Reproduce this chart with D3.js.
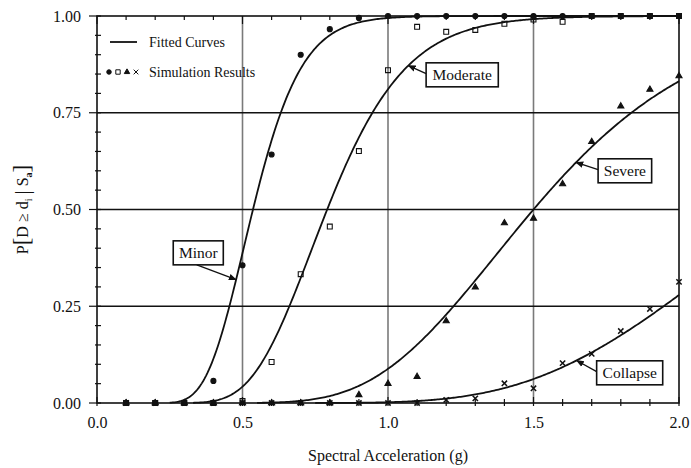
<!DOCTYPE html>
<html>
<head>
<meta charset="utf-8">
<script src="https://cdn.jsdelivr.net/npm/d3@7"></script>
<style>
  html, body { margin: 0; padding: 0; background: #fff; }
  svg { display: block; font-family: "Liberation Serif", "DejaVu Serif", serif; }
</style>
</head>
<body>
<svg id="chart" width="691" height="468"></svg>
<script>
// Damage states and fitted lognormal fragility parameters
const states = ["Minor", "Moderate", "Severe", "Collapse"];
const medians = [0.536, 0.791, 1.50, 2.387];
const betas = [0.243, 0.266, 0.30, 0.302];

// Simulation results at each spectral acceleration level (g)
const saLevels = [0.1, 0.2, 0.3, 0.4, 0.5, 0.6, 0.7, 0.8, 0.9, 1.0,
                  1.1, 1.2, 1.3, 1.4, 1.5, 1.6, 1.7, 1.8, 1.9, 2.0];
const minorSim    = [0, 0, 0, 0.057, 0.356, 0.642, 0.90, 0.966, 0.995, 1.0,
                     1.0, 1.0, 1.0, 1.0, 1.0, 1.0, 1.0, 1.0, 1.0, 1.0];
const moderateSim = [0, 0, 0, 0, 0.005, 0.106, 0.333, 0.456, 0.651, 0.86,
                     0.972, 0.959, 0.964, 0.98, 0.991, 0.985, 1.0, 1.0, 1.0, 1.0];
const severeSim   = [0, 0, 0, 0, 0, 0, 0, 0, 0.021, 0.05,
                     0.068, 0.212, 0.299, 0.465, 0.477, 0.566, 0.675, 0.767, 0.81, 0.845];
const collapseSim = [0, 0, 0, 0, 0, 0, 0, 0, 0, 0,
                     0.0, 0.008, 0.012, 0.051, 0.038, 0.103, 0.127, 0.186, 0.243, 0.313];

// Axis tick labels
const xTicks = [0.0, 0.5, 1.0, 1.5, 2.0];
const yTicks = [0.00, 0.25, 0.50, 0.75, 1.00];

const svg = d3.select("#chart");
const W = 691, H = 468;
const margin = { top: 16, right: 12, bottom: 65, left: 97 };

const x = d3.scaleLinear().domain([0, 2]).range([margin.left, W - margin.right]);
const y = d3.scaleLinear().domain([0, 1]).range([H - margin.bottom, margin.top]);

// Standard normal CDF (Abramowitz & Stegun erf approximation)
function erf(v) {
  const s = v < 0 ? -1 : 1;
  v = Math.abs(v);
  const t = 1 / (1 + 0.3275911 * v);
  const p = t * (0.254829592 + t * (-0.284496736 + t * (1.421413741 + t * (-1.453152027 + t * 1.061405429))));
  return s * (1 - p * Math.exp(-v * v));
}
const phi = z => 0.5 * (1 + erf(z / Math.SQRT2));
const fragility = (i, sa) => sa <= 0 ? 0 : phi(Math.log(sa / medians[i]) / betas[i]);

// Gridlines
const g = svg.append("g");
g.selectAll(".vgrid").data([0.5, 1.0, 1.5]).join("line")
  .attr("x1", d => x(d)).attr("x2", d => x(d))
  .attr("y1", y(1)).attr("y2", y(0))
  .attr("stroke", "#7a7a7a").attr("stroke-width", 1.6);
g.selectAll(".hgrid").data([0.25, 0.5, 0.75]).join("line")
  .attr("x1", x(0)).attr("x2", x(2))
  .attr("y1", d => y(d)).attr("y2", d => y(d))
  .attr("stroke", "#111").attr("stroke-width", 1.4);

// Frame
g.append("rect")
  .attr("x", x(0)).attr("y", y(1))
  .attr("width", x(2) - x(0)).attr("height", y(0) - y(1))
  .attr("fill", "none").attr("stroke", "#111").attr("stroke-width", 1.6);

// Minor ticks
const xMinor = d3.range(0, 2.0001, 0.1);
const yMinor = d3.range(0, 1.0001, 0.05);
const isHalf = d => Math.abs(d * 2 - Math.round(d * 2)) < 1e-6;
const isQuarter = d => Math.abs(d * 4 - Math.round(d * 4)) < 1e-6;
g.selectAll(".xtb").data(xMinor).join("line")
  .attr("x1", d => x(d)).attr("x2", d => x(d))
  .attr("y1", y(0) + 3).attr("y2", d => y(0) - (isHalf(d) ? 6 : 4))
  .attr("stroke", "#111").attr("stroke-width", 1.2);
g.selectAll(".xtt").data(xMinor).join("line")
  .attr("x1", d => x(d)).attr("x2", d => x(d))
  .attr("y1", y(1)).attr("y2", d => y(1) + (isHalf(d) ? 8 : 4))
  .attr("stroke", "#111").attr("stroke-width", 1.2);
g.selectAll(".ytl").data(yMinor).join("line")
  .attr("x1", d => x(0) - (isQuarter(d) ? 8 : 2)).attr("x2", x(0) + 4)
  .attr("y1", d => y(d)).attr("y2", d => y(d))
  .attr("stroke", "#111").attr("stroke-width", 1.2);

// Axis labels via d3 axes (tick lines drawn above)
const xAxis = d3.axisBottom(x).tickValues(xTicks).tickFormat(d3.format(".1f")).tickSize(0).tickPadding(14);
const yAxis = d3.axisLeft(y).tickValues(yTicks).tickFormat(d3.format(".2f")).tickSize(0).tickPadding(16);
const xa = svg.append("g").attr("transform", `translate(0,${y(0)})`).call(xAxis);
const ya = svg.append("g").attr("transform", `translate(${x(0)},0)`).call(yAxis);
[xa, ya].forEach(a => {
  a.select(".domain").remove();
  a.selectAll("text").attr("font-family", "Liberation Serif, serif").attr("font-size", 16).attr("fill", "#111");
});

// Axis titles
svg.append("text")
  .attr("x", (x(0) + x(2)) / 2).attr("y", 461)
  .attr("text-anchor", "middle").attr("font-size", 16).attr("fill", "#111")
  .text("Spectral Acceleration (g)");

const yt = svg.append("text")
  .attr("transform", `translate(28,${(y(0) + y(1)) / 2}) rotate(-90)`)
  .attr("text-anchor", "middle").attr("font-size", 16).attr("fill", "#111");
yt.append("tspan").text("P");
yt.append("tspan").attr("font-size", 23).attr("dy", 1).text("[");
yt.append("tspan").attr("dy", -1).text("D ≥ d");
yt.append("tspan").attr("font-size", 10).attr("dy", 4).text("i");
yt.append("tspan").attr("dy", -4).attr("font-size", 16).text(" ");
yt.append("tspan").attr("font-size", 21).attr("dy", 1).text("|");
yt.append("tspan").attr("dy", -1).attr("font-size", 16).text(" S");
yt.append("tspan").attr("font-size", 10).attr("dy", 4).attr("font-weight", "bold").text("a");
yt.append("tspan").attr("font-size", 23).attr("dy", -3).text("]");

// Fitted curves
const line = d3.line().x(d => x(d[0])).y(d => y(d[1])).curve(d3.curveLinear);
const grid = d3.range(0.1, 2.0001, 0.005);
const curveStart = [0.25, 0.33, 0.55, 0.75];
states.forEach((s, i) => {
  const pts = grid.filter(v => v >= curveStart[i]).map(v => [v, fragility(i, v)]);
  svg.append("path").datum(pts)
    .attr("d", line).attr("fill", "none")
    .attr("stroke", "#111").attr("stroke-width", 1.8);
});

// Simulation markers
const simSeries = [minorSim, moderateSim, severeSim, collapseSim];
const symbolFor = [d3.symbolCircle, d3.symbolSquare, d3.symbolTriangle, d3.symbolX];
const sizeFor = [20, 24, 16, 20];
simSeries.forEach((vals, i) => {
  const m = svg.append("g");
  m.selectAll("path").data(vals.map((v, k) => [saLevels[k], v])).join("path")
    .attr("transform", d => `translate(${x(d[0])},${y(d[1])})`)
    .attr("d", d3.symbol().type(symbolFor[i]).size(sizeFor[i]))
    .attr("fill", i === 1 || i === 3 ? "none" : "#111")
    .attr("stroke", "#111")
    .attr("stroke-width", i === 3 ? 1.5 : 1.1);
});

// Arrow head marker
svg.append("defs").append("marker")
  .attr("id", "arrow").attr("viewBox", "0 0 10 10")
  .attr("refX", 9).attr("refY", 5)
  .attr("markerWidth", 8).attr("markerHeight", 8)
  .attr("markerUnits", "userSpaceOnUse")
  .attr("orient", "auto")
  .append("path").attr("d", "M0,1 L10,5 L0,9 Z").attr("fill", "#111");

// Damage-state callouts: box left/right (g), box centre (P), arrow tip Sa, arrow start side
const callouts = [
  { i: 0, x0: 0.262, x1: 0.434, yc: 0.388, tip: 0.478, from: "bottom" },
  { i: 1, x0: 1.131, x1: 1.379, yc: 0.848, tip: 1.07, from: "left" },
  { i: 2, x0: 1.722, x1: 1.906, yc: 0.600, tip: 1.646, from: "left" },
  { i: 3, x0: 1.717, x1: 1.944, yc: 0.078, tip: 1.648, from: "left" }
];
callouts.forEach(c => {
  const bx = x(c.x0), bw = x(c.x1) - x(c.x0), bh = 24, by = y(c.yc) - bh / 2;
  const tx = x(c.tip), ty = y(fragility(c.i, c.tip));
  let sx, sy;
  if (c.from === "bottom") { sx = bx + bw * 0.47; sy = by + bh; }
  else { sx = bx; sy = by + bh * 0.45; }
  svg.append("line")
    .attr("x1", sx).attr("y1", sy).attr("x2", tx).attr("y2", ty)
    .attr("stroke", "#111").attr("stroke-width", 1.3)
    .attr("marker-end", "url(#arrow)");
  svg.append("rect")
    .attr("x", bx).attr("y", by).attr("width", bw).attr("height", bh)
    .attr("fill", "#fff").attr("stroke", "#111").attr("stroke-width", 1.6);
  svg.append("text")
    .attr("x", bx + bw / 2).attr("y", by + bh / 2 + 5)
    .attr("text-anchor", "middle").attr("font-size", 15.5).attr("fill", "#111")
    .text(states[c.i]);
});

// Legend
const lg = svg.append("g");
lg.append("line").attr("x1", 110).attr("x2", 137).attr("y1", 42).attr("y2", 42)
  .attr("stroke", "#111").attr("stroke-width", 1.8);
lg.append("text").attr("x", 149).attr("y", 47).attr("font-size", 14).attr("fill", "#111").text("Fitted Curves");
symbolFor.forEach((t, i) => {
  lg.append("path")
    .attr("transform", `translate(${109 + i * 9},72)`)
    .attr("d", d3.symbol().type(t).size(sizeFor[i] * 0.8))
    .attr("fill", i === 1 || i === 3 ? "none" : "#111")
    .attr("stroke", "#111").attr("stroke-width", 1);
});
lg.append("text").attr("x", 149).attr("y", 77).attr("font-size", 14).attr("fill", "#111").text("Simulation Results");
</script>
</body>
</html>
